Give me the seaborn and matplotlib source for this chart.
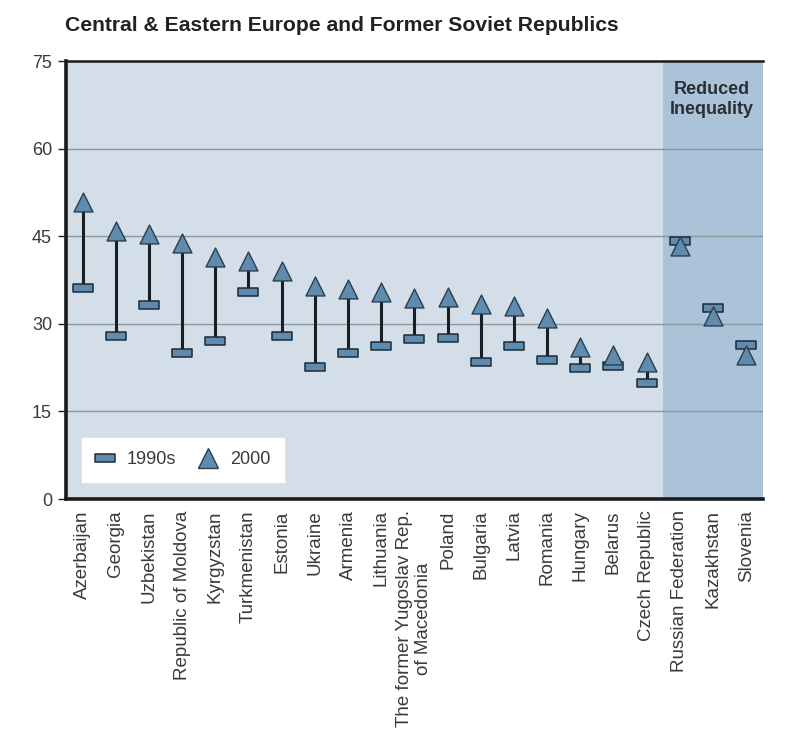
import matplotlib
matplotlib.use("Agg")
import matplotlib.pyplot as plt
import seaborn as sns
import pandas as pd
import numpy as np
from matplotlib.path import Path
from matplotlib.lines import Line2D

countries = ["Azerbaijan", "Georgia", "Uzbekistan", "Republic of Moldova", "Kyrgyzstan",
             "Turkmenistan", "Estonia", "Ukraine", "Armenia", "Lithuania",
             "The former Yugoslav Rep.\nof Macedonia", "Poland", "Bulgaria", "Latvia",
             "Romania", "Hungary", "Belarus", "Czech Republic", "Russian Federation",
             "Kazakhstan", "Slovenia"]
gini_1990s = [36.1, 27.9, 33.2, 25.0, 27.1, 35.4, 27.9, 22.6, 25.0, 26.2,
              27.4, 27.6, 23.5, 26.2, 23.8, 22.4, 22.8, 19.9, 44.2, 32.7, 26.4]
gini_2000 = [50.9, 45.9, 45.4, 43.8, 41.4, 40.8, 39.0, 36.5, 36.0, 35.4,
             34.4, 34.6, 33.4, 33.0, 31.0, 26.0, 24.7, 23.5, 43.3, 31.3, 24.7]
yticks = [0, 15, 30, 45, 60, 75]
reduced = ["Russian Federation", "Kazakhstan", "Slovenia"]

df = pd.DataFrame({"country": countries, "y1990": gini_1990s, "y2000": gini_2000})

sns.set_style("white")
plt.rcParams["font.family"] = ["Liberation Sans", "DejaVu Sans"]

fig = plt.figure(figsize=(7.9, 7.35), dpi=100)
ax = fig.add_axes([0.0835, 0.321, 0.882, 0.596])

light = "#d3dee8"
dark = "#abc3d8"
mfill = "#5f8cae"
medge = "#1c2a36"

ax.set_facecolor(light)
n = len(countries)
first_red = countries.index(reduced[0])
ax.axvspan(first_red - 0.5, n - 0.5, color=dark, zorder=0, lw=0)

for t in yticks[1:-1]:
    ax.axhline(t, color="#8c959c", lw=1.0, zorder=1)

xpos = np.arange(n)
ax.vlines(xpos, df["y1990"], df["y2000"], color="#1a1f26", lw=2.2, zorder=2)

bar_marker = Path([(-1, -0.4), (1, -0.4), (1, 0.4), (-1, 0.4), (-1, -0.4)],
                  [Path.MOVETO, Path.LINETO, Path.LINETO, Path.LINETO, Path.CLOSEPOLY])

sns.scatterplot(data=df, x="country", y="y1990", marker=bar_marker, s=205,
                color=mfill, edgecolor=medge, linewidth=1.1, ax=ax, zorder=3)
sns.scatterplot(data=df, x="country", y="y2000", marker="^", s=185,
                color=mfill, edgecolor="#2b3e4e", linewidth=1.0, ax=ax, zorder=4)

ax.set_xlim(-0.5, n - 0.5)
ax.set_ylim(0, 75)
ax.set_yticks(yticks)
ax.set_yticklabels([str(t) for t in yticks], fontsize=13, color="#3a3a3a")
ax.set_xticks(xpos)
ax.set_xticklabels(countries, rotation=90, fontsize=13.5, color="#3a3a3a",
                   linespacing=1.15, ha="center", va="top")
ax.set_xlabel("")
ax.set_ylabel("")
ax.tick_params(axis="y", length=6, width=1, color="#222222", pad=4, left=True)
ax.tick_params(axis="x", length=0, pad=8)

for side in ["left", "bottom"]:
    ax.spines[side].set_linewidth(2.6)
    ax.spines[side].set_color("#1a1a1a")
ax.spines["top"].set_linewidth(1.8)
ax.spines["top"].set_color("#1a1a1a")
ax.spines["right"].set_visible(False)

ax.text((first_red - 0.5 + n - 0.5) / 2 - 0.05, 68.4, "Reduced\nInequality", ha="center", va="center",
        fontsize=13, fontweight="bold", color="#2b2f36", linespacing=1.25)

handles = [Line2D([], [], ls="none", marker=bar_marker, markersize=14,
                  markerfacecolor=mfill, markeredgecolor=medge, markeredgewidth=1.1),
           Line2D([], [], ls="none", marker="^", markersize=14,
                  markerfacecolor=mfill, markeredgecolor="#2b3e4e", markeredgewidth=1.0)]
leg = ax.legend(handles, ["1990s", "2000"], loc="lower left", bbox_to_anchor=(0.023, 0.039),
                ncol=2, frameon=True, fancybox=False, framealpha=1, edgecolor="white",
                facecolor="white", fontsize=13, borderaxespad=0, handlelength=1.0,
                handletextpad=0.7, columnspacing=1.3, borderpad=0.75)
for t in leg.get_texts():
    t.set_color("#3a3a3a")

fig.text(0.082, 0.965, "Central & Eastern Europe and Former Soviet Republics",
         fontsize=15.2, fontweight="bold", color="#222222", ha="left", va="center")

fig.savefig("out.png", dpi=100)
